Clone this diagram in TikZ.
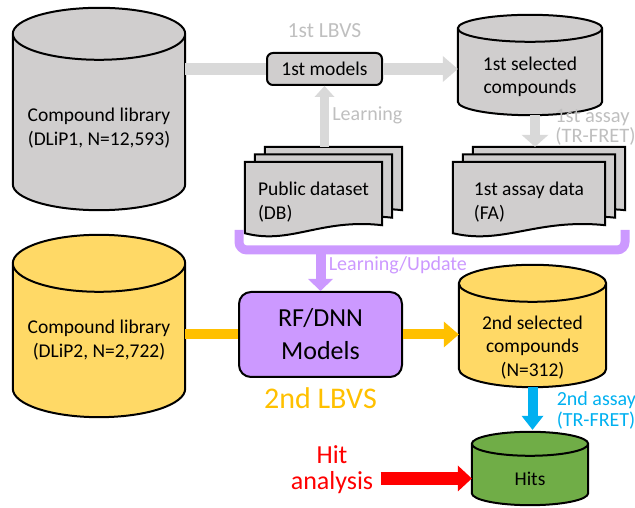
\documentclass[tikz,border=0pt]{standalone}
\usepackage{fontspec}
\setmainfont{Carlito}
\usetikzlibrary{arrows.meta, calc, positioning, backgrounds}
\definecolor{fillgray}{RGB}{208,206,206}
\definecolor{arrowgray}{RGB}{217,217,217}
\definecolor{textgray}{RGB}{191,191,191}
\definecolor{lilac}{RGB}{204,153,255}
\definecolor{sand}{RGB}{255,217,102}
\definecolor{amber}{RGB}{255,192,0}
\definecolor{skyblue}{RGB}{0,176,240}
\definecolor{leaf}{RGB}{112,173,71}

\tikzset{
  outline/.style={draw=black, line width=2pt},
  body/.style={font=\fontsize{19.5}{23.5}\selectfont, align=center},
  drum/.style={body, inner sep=0pt},
  sheet/.style={body, align=left, inner sep=0pt, minimum height=71pt, text height=46pt},
  flow/.style 2 args={-{Triangle[length=#1, width=#2, line width=0pt]}},
  side/.style={font=\fontsize{20}{21}\selectfont, align=left},
}

% cylinder round a node: [gap above node], node, ry, fill
\newcommand{\drum}[4][0]{%
  \begin{pgfonlayer}{background}
    \path let \p1=($(#2.east)-(#2.west)$) in
      [fill=#4, outline] ([yshift=#1pt]#2.north west) -- ([yshift=#3pt]#2.south west)
      arc[start angle=180, end angle=360, x radius=0.5*\x1, y radius=#3pt]
      -- ([yshift=#1pt]#2.north east)
      arc[start angle=0, end angle=180, x radius=0.5*\x1, y radius=#3pt] -- cycle
      ([yshift=#1pt]#2.north west) arc[start angle=180, end angle=360, x radius=0.5*\x1, y radius=#3pt];
  \end{pgfonlayer}
}

% stack of three documents behind a node
\newcommand{\sheets}[1]{%
  \begin{pgfonlayer}{background}
    \foreach \d in {2,1,0}{
      \filldraw[fill=fillgray, outline] ([shift={(10*\d,7.5*\d)}]#1.north west)
        -- ([shift={(10*\d,7.5*\d)}]#1.north east)
        -- ([shift={(10*\d,7.5*\d+8)}]#1.south east)
        .. controls ($(#1.south west)!0.55!(#1.south east)+(10*\d,7.5*\d+15)$)
        and ($(#1.south west)!0.33!(#1.south east)+(10*\d,7.5*\d-12)$)
        .. ([shift={(10*\d,7.5*\d)}]#1.south west) -- cycle;
    }
  \end{pgfonlayer}
}

\begin{document}
\begin{tikzpicture}[x=1pt, y=1pt]
    \useasboundingbox (0,0) rectangle (635,508);

    % first round
    \node[drum, minimum width=172pt, minimum height=164pt] (lib1) at (99,380) {Compound library\\(DLiP1, N=12,593)};
    \drum[12]{lib1}{26}{fillgray}

    \node[body, outline, fill=fillgray, rounded corners=6pt, minimum width=115pt, minimum height=32pt, inner sep=0pt] (models1) at (324.5,439) {1st models};
    \node[side, text=textgray, font=\fontsize{21.5}{24}\selectfont] (lbvs1) at ([yshift=21pt]models1.north) {1st LBVS};

    \node[drum, minimum width=144pt, minimum height=76.5pt] (sel1) at (530,431.25) {1st selected\\compounds};
    \drum[10]{sel1}{13.5}{fillgray}

    \node[sheet, minimum width=137pt] (pub) at (313.5,310.5) {Public dataset\\(DB)};
    \sheets{pub}
    \node[sheet, minimum width=152pt] (assay) at (529,310.5) {1st assay data\\(FA)};
    \sheets{assay}

    \coordinate (pubtop) at ([yshift=15pt]pub.north);
    \coordinate (assaytop) at ([yshift=15pt]assay.north);
    \coordinate (sel1out) at ([xshift=5pt]sel1.south);

    \draw[arrowgray, line width=12pt] (lib1.east |- models1.west) -- (models1.west);
    \draw[arrowgray, line width=12pt, flow={15pt}{26pt}] (models1.east) -- (sel1.west |- models1.east);
    \draw[arrowgray, line width=9pt, flow={11pt}{20pt}] (models1.south |- pubtop) -- node[side, text=textgray, right, pos=0.52] {Learning} (models1.south);
    \draw[arrowgray, line width=10pt, flow={12pt}{27pt}] (sel1out) -- node[side, text=textgray, right, pos=0.39, xshift=12pt, font=\fontsize{20.5}{20}\selectfont] {1st assay\\(TR-FRET)} (sel1out |- assaytop);

    % second round
    \coordinate (brl) at (239,278);
    \coordinate (brr) at (625,278);
    \draw[lilac, line width=9pt, rounded corners=8pt] (brl) -- (239,258) -- (625,258) -- (brr);

    \node[drum, minimum width=172pt, minimum height=153.5pt] (lib2) at (99,167.75) {Compound library\\(DLiP2, N=2,722)};
    \drum{lib2}{28.5}{sand}

    \node[outline, fill=lilac, rounded corners=12pt, minimum width=163pt, minimum height=85pt, font=\fontsize{26}{33}\selectfont, align=center] (rfdnn) at (320.5,173.5) {RF/DNN\\Models};
    \node[text=amber, font=\fontsize{30}{32}\selectfont] (lbvs2) at ([yshift=-20pt]rfdnn.south) {2nd LBVS};

    \node[drum, minimum width=147pt, minimum height=79.5pt] (sel2) at (532.5,160.75) {2nd selected\\compounds\\(N=312)};
    \drum[24]{sel2}{18.5}{sand}

    \node[drum, minimum width=116pt, minimum height=53pt] (hits) at (530,29.5) {Hits};
    \drum[8]{hits}{12}{leaf}

    \node[text=red, font=\fontsize{26}{26}\selectfont, align=center] (hitlbl) at (332,38) {Hit\\analysis};

    \coordinate (brk) at (rfdnn.north |- 0,258);
    \coordinate (hitstop) at ([yshift=22pt]hits.north);

    \draw[lilac, line width=10pt, flow={12pt}{25pt}] (brk) -- node[side, text=lilac, right, pos=0.38] {Learning/Update} (rfdnn.north);
    \draw[amber, line width=10pt] (lib2.east |- rfdnn.west) -- (rfdnn.west);
    \draw[amber, line width=10pt, flow={15pt}{26pt}] (rfdnn.east) -- (sel2.west |- rfdnn.east);
    \draw[skyblue, line width=10pt, flow={14pt}{22pt}] (sel2.south) -- node[side, text=skyblue, right, pos=0.55, xshift=16pt] {2nd assay\\(TR-FRET)} (sel2.south |- hitstop);
    \draw[red, line width=13pt, flow={14pt}{26pt}, shorten <=4pt] (hitlbl.east |- hits.west) -- (hits.west);

\end{tikzpicture}
\end{document}
